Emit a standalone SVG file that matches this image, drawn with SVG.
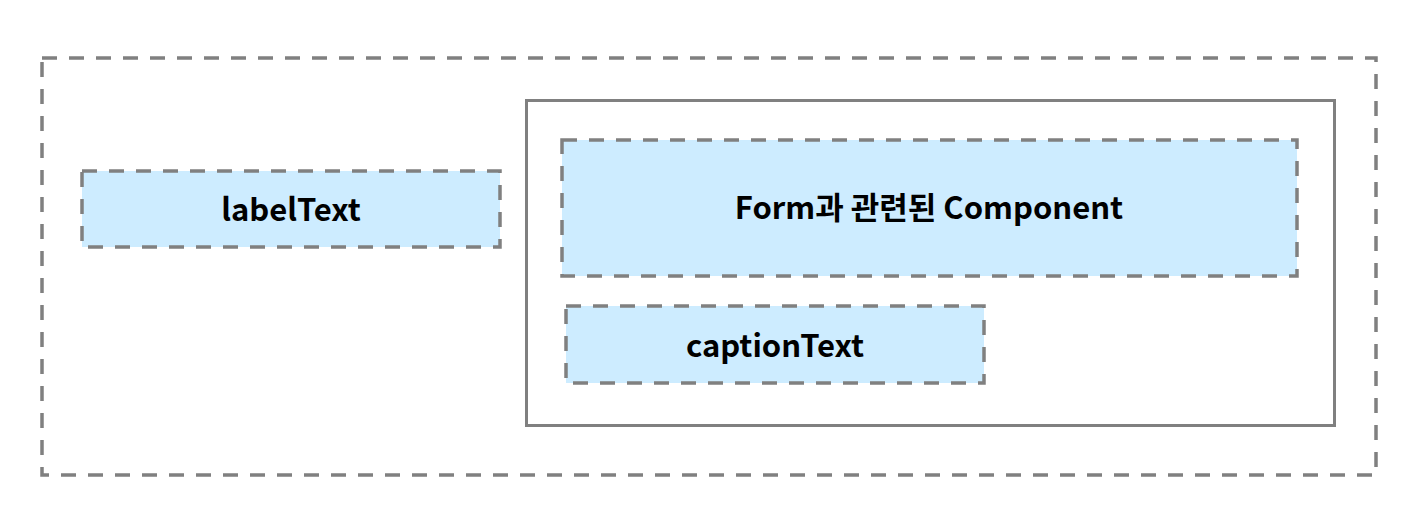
<svg xmlns="http://www.w3.org/2000/svg" width="1420" height="518" viewBox="0 0 1420 518">
<style>
.dash{fill:none;stroke:#808080;stroke-width:3.5;stroke-dasharray:15 12}
.box{fill:#cdecff;stroke:#808080;stroke-width:3.5;stroke-dasharray:15 12}
.solid{fill:none;stroke:#808080;stroke-width:3}
.t{font-family:"Noto Sans CJK KR","Noto Sans",sans-serif;font-weight:bold;font-size:31px;fill:#000;text-anchor:middle;dominant-baseline:central}
</style>
<rect width="1420" height="518" fill="#ffffff"/>
<g id="outer"><rect class="dash" x="42" y="58" width="1334" height="417"/></g>
<g id="labelText"><rect class="box" x="82" y="171" width="418" height="76"/><text class="t" x="291" y="207">labelText</text></g>
<g id="container"><rect class="solid" x="526.5" y="100.5" width="808" height="325"/></g>
<g id="formComponent"><rect class="box" x="562" y="140" width="735" height="136"/><text class="t" x="929" y="205">Form과 관련된 Component</text></g>
<g id="captionText"><rect class="box" x="566" y="306" width="418" height="77"/><text class="t" x="775" y="343">captionText</text></g>
<g id="connectors"></g>
</svg>
